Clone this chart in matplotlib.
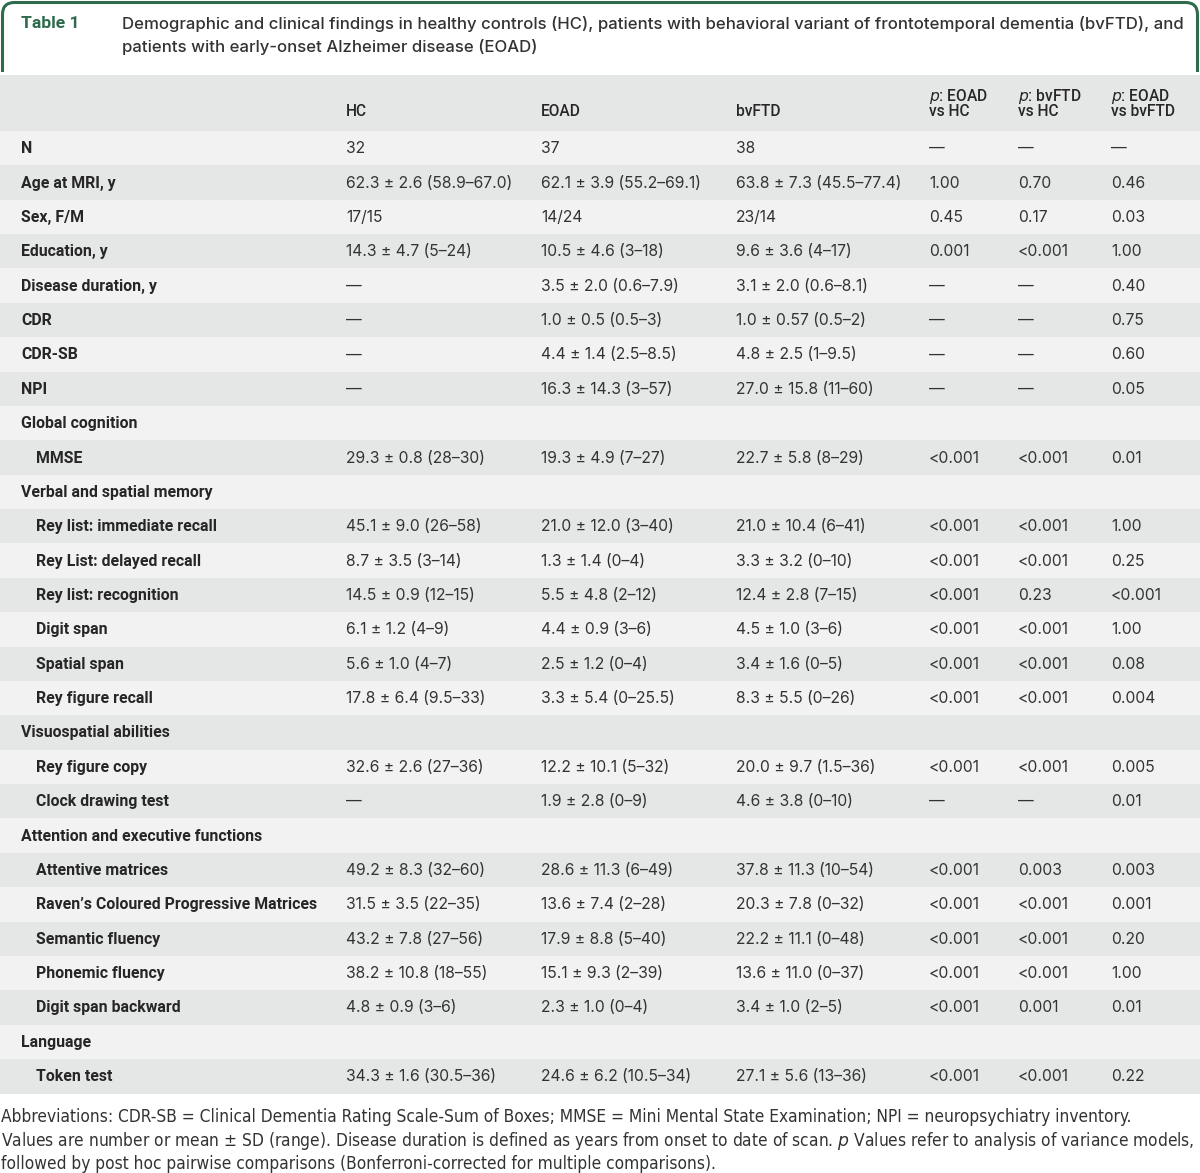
import matplotlib
matplotlib.use("Agg")
import matplotlib.pyplot as plt
from matplotlib.patches import Rectangle
from matplotlib.path import Path
from matplotlib.patches import PathPatch

DASH = "\u2014"

labels = ["N", "Age at MRI, y", "Sex, F/M", "Education, y", "Disease duration, y", "CDR",
          "CDR-SB", "NPI", "Global cognition", "MMSE", "Verbal and spatial memory",
          "Rey list: immediate recall", "Rey List: delayed recall", "Rey list: recognition",
          "Digit span", "Spatial span", "Rey figure recall", "Visuospatial abilities",
          "Rey figure copy", "Clock drawing test", "Attention and executive functions",
          "Attentive matrices", "Raven\u2019s Coloured Progressive Matrices", "Semantic fluency",
          "Phonemic fluency", "Digit span backward", "Language", "Token test"]
indented = [0, 0, 0, 0, 0, 0, 0, 0, 0, 1, 0, 1, 1, 1, 1, 1, 1, 0, 1, 1, 0, 1, 1, 1, 1, 1, 0, 1]

hc = ["32", "62.3 ± 2.6 (58.9–67.0)", "17/15", "14.3 ± 4.7 (5–24)", DASH, DASH, DASH, DASH, "",
      "29.3 ± 0.8 (28–30)", "", "45.1 ± 9.0 (26–58)", "8.7 ± 3.5 (3–14)", "14.5 ± 0.9 (12–15)",
      "6.1 ± 1.2 (4–9)", "5.6 ± 1.0 (4–7)", "17.8 ± 6.4 (9.5–33)", "", "32.6 ± 2.6 (27–36)", DASH, "",
      "49.2 ± 8.3 (32–60)", "31.5 ± 3.5 (22–35)", "43.2 ± 7.8 (27–56)", "38.2 ± 10.8 (18–55)",
      "4.8 ± 0.9 (3–6)", "", "34.3 ± 1.6 (30.5–36)"]
eoad = ["37", "62.1 ± 3.9 (55.2–69.1)", "14/24", "10.5 ± 4.6 (3–18)", "3.5 ± 2.0 (0.6–7.9)",
        "1.0 ± 0.5 (0.5–3)", "4.4 ± 1.4 (2.5–8.5)", "16.3 ± 14.3 (3–57)", "",
        "19.3 ± 4.9 (7–27)", "", "21.0 ± 12.0 (3–40)", "1.3 ± 1.4 (0–4)", "5.5 ± 4.8 (2–12)",
        "4.4 ± 0.9 (3–6)", "2.5 ± 1.2 (0–4)", "3.3 ± 5.4 (0–25.5)", "", "12.2 ± 10.1 (5–32)",
        "1.9 ± 2.8 (0–9)", "", "28.6 ± 11.3 (6–49)", "13.6 ± 7.4 (2–28)", "17.9 ± 8.8 (5–40)",
        "15.1 ± 9.3 (2–39)", "2.3 ± 1.0 (0–4)", "", "24.6 ± 6.2 (10.5–34)"]
bvftd = ["38", "63.8 ± 7.3 (45.5–77.4)", "23/14", "9.6 ± 3.6 (4–17)", "3.1 ± 2.0 (0.6–8.1)",
         "1.0 ± 0.57 (0.5–2)", "4.8 ± 2.5 (1–9.5)", "27.0 ± 15.8 (11–60)", "",
         "22.7 ± 5.8 (8–29)", "", "21.0 ± 10.4 (6–41)", "3.3 ± 3.2 (0–10)", "12.4 ± 2.8 (7–15)",
         "4.5 ± 1.0 (3–6)", "3.4 ± 1.6 (0–5)", "8.3 ± 5.5 (0–26)", "", "20.0 ± 9.7 (1.5–36)",
         "4.6 ± 3.8 (0–10)", "", "37.8 ± 11.3 (10–54)", "20.3 ± 7.8 (0–32)", "22.2 ± 11.1 (0–48)",
         "13.6 ± 11.0 (0–37)", "3.4 ± 1.0 (2–5)", "", "27.1 ± 5.6 (13–36)"]
p_eoad_hc = [DASH, "1.00", "0.45", "0.001", DASH, DASH, DASH, DASH, "", "<0.001", "",
             "<0.001", "<0.001", "<0.001", "<0.001", "<0.001", "<0.001", "", "<0.001", DASH, "",
             "<0.001", "<0.001", "<0.001", "<0.001", "<0.001", "", "<0.001"]
p_bvftd_hc = [DASH, "0.70", "0.17", "<0.001", DASH, DASH, DASH, DASH, "", "<0.001", "",
              "<0.001", "<0.001", "0.23", "<0.001", "<0.001", "<0.001", "", "<0.001", DASH, "",
              "0.003", "<0.001", "<0.001", "<0.001", "0.001", "", "<0.001"]
p_eoad_bvftd = [DASH, "0.46", "0.03", "1.00", "0.40", "0.75", "0.60", "0.05", "", "0.01", "",
                "1.00", "0.25", "<0.001", "1.00", "0.08", "0.004", "", "0.005", "0.01", "",
                "0.003", "0.001", "0.20", "1.00", "0.01", "", "0.22"]

col_headers = ["HC", "EOAD", "bvFTD"]
title_label = "Table 1"
title_lines = ["Demographic and clinical findings in healthy controls (HC), patients with behavioral variant of frontotemporal dementia (bvFTD), and",
               "patients with early-onset Alzheimer disease (EOAD)"]
footnote = ["Abbreviations: CDR-SB = Clinical Dementia Rating Scale-Sum of Boxes; MMSE = Mini Mental State Examination; NPI = neuropsychiatry inventory.",
            "Values are number or mean ± SD (range). Disease duration is defined as years from onset to date of scan. $\\it{p}$ Values refer to analysis of variance models,",
            "followed by post hoc pairwise comparisons (Bonferroni-corrected for multiple comparisons)."]

W, H = 1200, 1173
fig = plt.figure(figsize=(W / 100, H / 100), dpi=100)
ax = fig.add_axes([0, 0, 1, 1])
ax.set_xlim(0, W)
ax.set_ylim(H, 0)
ax.axis("off")

GREEN = "#2f6b4c"
LIGHT = "#f2f2f2"
DARK = "#e5e7e6"
TXT = "#333333"
LAB = "#262626"
VFONT = "Inter"
LFONT = "Roboto"
FS = 11.3

# Title box border (rounded top corners, open bottom)
r = 12
verts = [(2.5, 72), (2.5, 2.5 + r), (2.5, 2.5), (2.5 + r, 2.5), (1197.5 - r, 2.5),
         (1197.5, 2.5), (1197.5, 2.5 + r), (1197.5, 72)]
codes = [Path.MOVETO, Path.LINETO, Path.CURVE3, Path.CURVE3, Path.LINETO,
         Path.CURVE3, Path.CURVE3, Path.LINETO]
ax.add_patch(PathPatch(Path(verts, codes), fill=False, edgecolor=GREEN, lw=2.2))

ax.text(21, 24, title_label, color=GREEN, fontsize=12.6, fontweight="bold",
        family=LFONT, va="center", ha="left")
for i, line in enumerate(title_lines):
    ax.text(122, 24 + 23 * i, line, color=TXT, fontsize=12.05, fontweight="medium",
            family=VFONT, va="center", ha="left")

# Header band
top_header, row0_top, row_h = 75, 131, 34.37
ax.add_patch(Rectangle((0, top_header), W, row0_top - top_header, color=DARK, lw=0))

xs = [346, 541, 736]
for x, h in zip(xs, col_headers):
    ax.text(x, 112, h, color=LAB, fontsize=11.2, fontweight="medium", family=LFONT,
            va="center", ha="left")
p_heads = [("EOAD", "HC"), ("bvFTD", "HC"), ("EOAD", "bvFTD")]
pxs = [929, 1018, 1111]
for x, (a, b) in zip(pxs, p_heads):
    ax.text(x, 96, "$\\it{p}$: " + a, color=LAB, fontsize=11.2, fontweight="medium",
            family=LFONT, va="center", ha="left")
    ax.text(x, 112, "vs " + b, color=LAB, fontsize=11.2, fontweight="medium",
            family=LFONT, va="center", ha="left")

for i, lab in enumerate(labels):
    y0 = row0_top + i * row_h
    ax.add_patch(Rectangle((0, y0), W, row_h + 0.5, color=LIGHT if i % 2 == 0 else DARK, lw=0))
    yc = y0 + row_h / 2 + 0.5
    ax.text(36 if indented[i] else 21, yc, lab, color=LAB, fontsize=11.4, fontweight="semibold",
            family=LFONT, va="center", ha="left")
    for x, col in zip(xs + pxs, [hc, eoad, bvftd, p_eoad_hc, p_bvftd_hc, p_eoad_bvftd]):
        if col[i]:
            ax.text(x, yc, col[i], color=TXT, fontsize=FS, family=VFONT, va="center", ha="left")

for i, line in enumerate(footnote):
    ax.text(1, 1117 + 23.5 * i, line, color=TXT, fontsize=12.42, family="DejaVu Sans",
            fontstretch="condensed", va="center", ha="left")

fig.savefig("out.png", dpi=100, facecolor="white")
